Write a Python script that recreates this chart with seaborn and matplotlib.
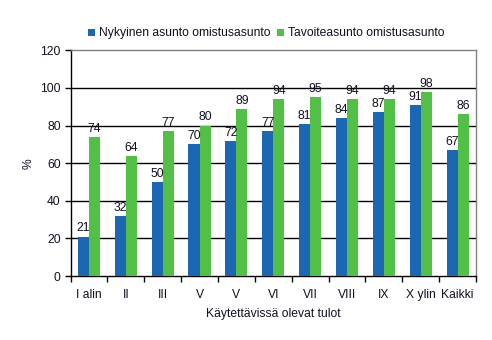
import matplotlib
matplotlib.use("Agg")
import matplotlib.pyplot as plt
import seaborn as sns
import pandas as pd
import numpy as np

categories = ["I alin", "II", "III", "V", "V", "VI", "VII", "VIII", "IX", "X ylin", "Kaikki"]
series_names = ["Nykyinen asunto omistusasunto", "Tavoiteasunto omistusasunto"]
nykyinen = [21, 32, 50, 70, 72, 77, 81, 84, 87, 91, 67]
tavoite = [74, 64, 77, 80, 89, 94, 95, 94, 94, 98, 86]
y_ticks = [0, 20, 40, 60, 80, 100, 120]

colors = ["#1C67B2", "#52BF46"]
text_color = "#111122"
fs = 8.7

sns.set_theme(style="white")
plt.rcParams["font.family"] = ["Liberation Sans", "DejaVu Sans"]

# distinct ids so duplicate labels ("V") stay separate categories
ids = [f"c{i}" for i in range(len(categories))]
df = pd.DataFrame({
    "id": ids * 2,
    "value": nykyinen + tavoite,
    "series": [series_names[0]] * len(ids) + [series_names[1]] * len(ids),
})

fig = plt.figure(figsize=(4.92, 3.40), dpi=100)
ax = fig.add_axes([0.1433, 0.188, 0.8242, 0.664])

sns.barplot(data=df, x="id", y="value", hue="series", order=ids,
            hue_order=series_names, palette=colors, width=0.6,
            saturation=1, ax=ax, zorder=3, edgecolor="none", linewidth=0)

for cont in ax.containers:
    ax.bar_label(cont, fmt="%d", padding=1.5, fontsize=fs, color=text_color)

ax.set_ylim(0, 120)
ax.set_xlim(-0.5, len(categories) - 0.5)
ax.set_yticks(y_ticks)
ax.set_yticklabels([str(t) for t in y_ticks])
ax.set_xticks(range(len(categories)))
ax.set_xticklabels(categories)
ax.set_xticks(np.arange(-0.5, len(categories), 1.0), minor=True)

ax.tick_params(axis="x", which="major", length=0, pad=9, labelsize=fs, labelcolor=text_color)
ax.tick_params(axis="x", which="minor", length=4, width=1, color="black", direction="out", bottom=True)
ax.tick_params(axis="y", which="major", length=4, width=1, color="black", direction="out", left=True,
               labelsize=fs, labelcolor=text_color, pad=3)

for t in y_ticks[1:-1]:
    ax.axhline(t, color="black", linewidth=1, zorder=1)

ax.spines["left"].set_color("black")
ax.spines["bottom"].set_color("black")
ax.spines["top"].set_color("#808080")
ax.spines["right"].set_color("#808080")
for s in ax.spines.values():
    s.set_linewidth(1)
    s.set_visible(True)

ax.set_xlabel("Käytettävissä olevat tulot", fontsize=fs, color=text_color, labelpad=5)
ax.set_ylabel("%", fontsize=fs, color=text_color, labelpad=4)

handles, labels = ax.get_legend_handles_labels()
ax.legend(handles, labels, loc="lower center", bbox_to_anchor=(0.483, 1.0), ncol=2,
          frameon=False, fontsize=fs, handlelength=0.55, handleheight=0.55,
          handletextpad=0.3, columnspacing=0.6, labelcolor=text_color)

fig.savefig("out.png", dpi=100)
